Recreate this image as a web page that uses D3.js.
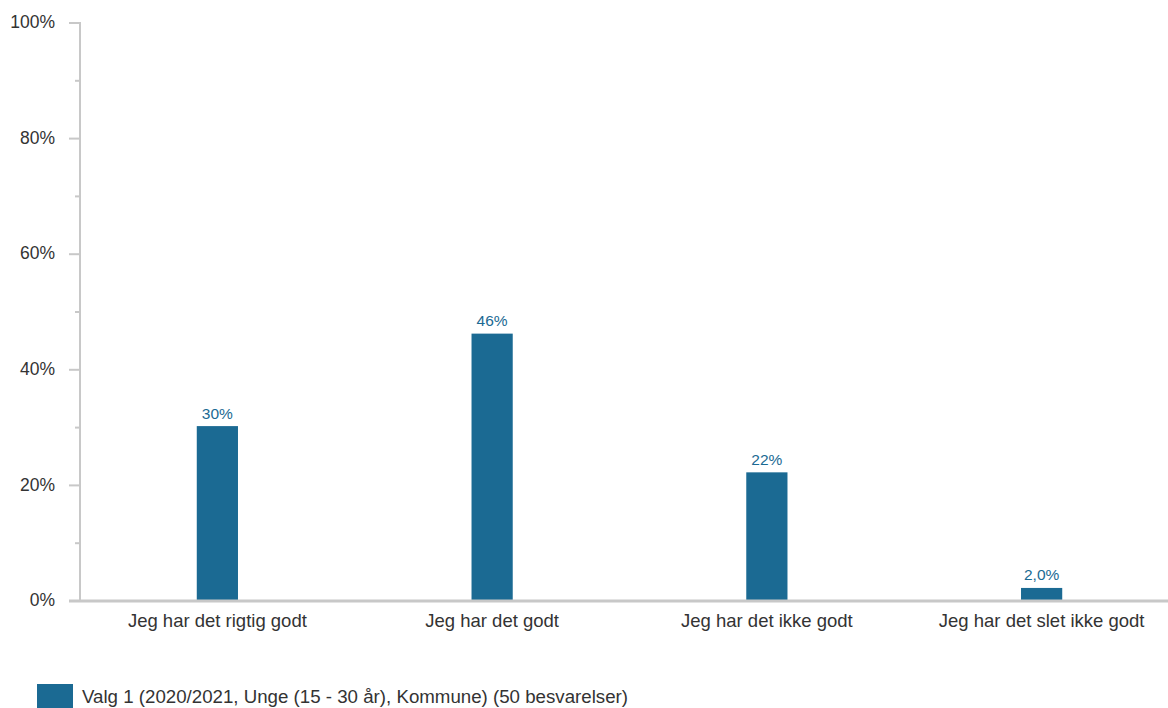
<!DOCTYPE html>
<html><head><meta charset="utf-8">
<script src="https://cdn.jsdelivr.net/npm/d3@7"></script>
<style>body{margin:0;background:#fff;} svg{display:block;font-family:Arial,"Liberation Sans",sans-serif;}</style>
</head><body>
<svg id="c" width="1168" height="708"></svg>
<script>
const categories = ["Jeg har det rigtig godt","Jeg har det godt","Jeg har det ikke godt","Jeg har det slet ikke godt"];
const values = [30, 46, 22, 2.0];
const valueLabels = ["30%","46%","22%","2,0%"];
const yTicks = [0,20,40,60,80,100];
const yMinorTicks = [10,30,50,70,90];
const legendLabel = "Valg 1 (2020/2021, Unge (15 - 30 år), Kommune) (50 besvarelser)";
const barColor = "#1b6a93";
const axisColor = "#c8c8c8";

const svg = d3.select("#c");
const x0 = 80, x1 = 1179, yTop = 23, yBot = 601;
const x = d3.scaleBand().domain(categories).range([x0, x1]).paddingInner(0.85).paddingOuter(0.425);
const y = d3.scaleLinear().domain([0,100]).range([yBot, yTop]);

// y axis
svg.append("line").attr("x1",80).attr("x2",80).attr("y1",yTop-1).attr("y2",yBot+1).attr("stroke",axisColor).attr("stroke-width",2);
svg.selectAll(".mt").data(yTicks).enter().append("line")
  .attr("x1",69).attr("x2",80).attr("y1",d=>y(d)).attr("y2",d=>y(d)).attr("stroke",axisColor).attr("stroke-width",2);
svg.selectAll(".mn").data(yMinorTicks).enter().append("line")
  .attr("x1",75).attr("x2",80).attr("y1",d=>y(d)).attr("y2",d=>y(d)).attr("stroke",axisColor).attr("stroke-width",2);
svg.selectAll(".yl").data(yTicks).enter().append("text")
  .attr("x",55).attr("y",d=>y(d)).attr("dy","0.3em").attr("text-anchor","end")
  .attr("font-size",17.5).attr("fill","#333").text(d=>d+"%");

// bars
svg.selectAll(".bar").data(values).enter().append("rect")
  .attr("x",(d,i)=>x(categories[i])).attr("width",x.bandwidth())
  .attr("y",d=>y(d)-1.5).attr("height",d=>yBot-y(d)+1.5).attr("fill",barColor);
svg.selectAll(".vl").data(values).enter().append("text")
  .attr("x",(d,i)=>x(categories[i])+x.bandwidth()/2).attr("y",d=>y(d)-9)
  .attr("text-anchor","middle").attr("font-size",15.5).attr("fill",barColor).text((d,i)=>valueLabels[i]);

// x axis
svg.append("line").attr("x1",69).attr("x2",1168).attr("y1",yBot).attr("y2",yBot).attr("stroke",axisColor).attr("stroke-width",3);
svg.selectAll(".xl").data(categories).enter().append("text")
  .attr("x",d=>x(d)+x.bandwidth()/2).attr("y",627).attr("text-anchor","middle")
  .attr("font-size",18.5).attr("fill","#333").text(d=>d);

// legend
svg.append("rect").attr("x",37).attr("y",684).attr("width",36).attr("height",24).attr("fill",barColor);
svg.append("text").attr("x",82).attr("y",703).attr("font-size",18.7).attr("fill","#333").text(legendLabel);
</script>
</body></html>
